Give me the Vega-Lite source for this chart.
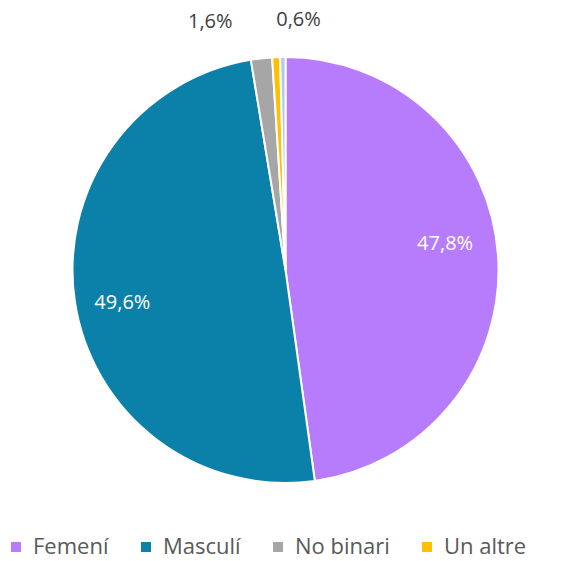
{
  "$schema": "https://vega.github.io/schema/vega-lite/v6.json",
  "width": 571,
  "height": 540,
  "padding": {"left": 0, "top": 0, "right": 0, "bottom": 21},
  "autosize": {"type": "none"},
  "background": "white",
  "config": {"view": {"stroke": null}},
  "data": {
    "values": [
      {"categoria": "Femení", "valor": 47.8, "ordre": 1, "etiqueta": "47,8%"},
      {"categoria": "Masculí", "valor": 49.6, "ordre": 2, "etiqueta": "49,6%"},
      {"categoria": "No binari", "valor": 1.6, "ordre": 3, "etiqueta": "1,6%"},
      {"categoria": "Un altre", "valor": 0.6, "ordre": 4, "etiqueta": "0,6%"},
      {"categoria": "Altres", "valor": 0.4, "ordre": 5, "etiqueta": ""}
    ]
  },
  "encoding": {
    "theta": {"field": "valor", "type": "quantitative", "stack": true},
    "order": {"field": "ordre", "type": "quantitative"}
  },
  "layer": [
    {
      "mark": {"type": "arc", "radius": 213, "stroke": "white", "strokeWidth": 2},
      "encoding": {
        "color": {
          "field": "categoria",
          "type": "nominal",
          "scale": {
            "domain": ["Femení", "Masculí", "No binari", "Un altre", "Altres"],
            "range": ["#B77CFB", "#0B80A8", "#A6A6A6", "#FFC000", "#B4C7E7"]
          },
          "legend": {
            "values": ["Femení", "Masculí", "No binari", "Un altre"],
            "orient": "none",
            "direction": "horizontal",
            "legendX": 5,
            "legendY": 536,
            "title": null,
            "symbolType": "square",
            "symbolSize": 100,
            "symbolStrokeWidth": 0,
            "labelFont": "Open Sans",
            "labelFontSize": 22,
            "labelColor": "#595959",
            "columnPadding": 26,
            "labelOffset": 6
          }
        }
      }
    },
    {
      "mark": {"type": "text", "radius": 160, "dy": -15, "font": "Open Sans", "fontSize": 20, "color": "white"},
      "encoding": {
        "text": {"condition": {"test": "datum.ordre == 1", "field": "etiqueta"}, "value": ""}
      }
    },
    {
      "mark": {"type": "text", "radius": 165, "dy": 8, "font": "Open Sans", "fontSize": 20, "color": "white"},
      "encoding": {
        "text": {"condition": {"test": "datum.ordre == 2", "field": "etiqueta"}, "value": ""}
      }
    },
    {
      "mark": {"type": "text", "radius": 250, "dx": -47, "font": "Open Sans", "fontSize": 20, "color": "#404040"},
      "encoding": {
        "text": {"condition": {"test": "datum.ordre == 3", "field": "etiqueta"}, "value": ""}
      }
    },
    {
      "mark": {"type": "text", "radius": 250, "dx": 24, "font": "Open Sans", "fontSize": 20, "color": "#404040"},
      "encoding": {
        "text": {"condition": {"test": "datum.ordre == 4", "field": "etiqueta"}, "value": ""}
      }
    }
  ]
}
